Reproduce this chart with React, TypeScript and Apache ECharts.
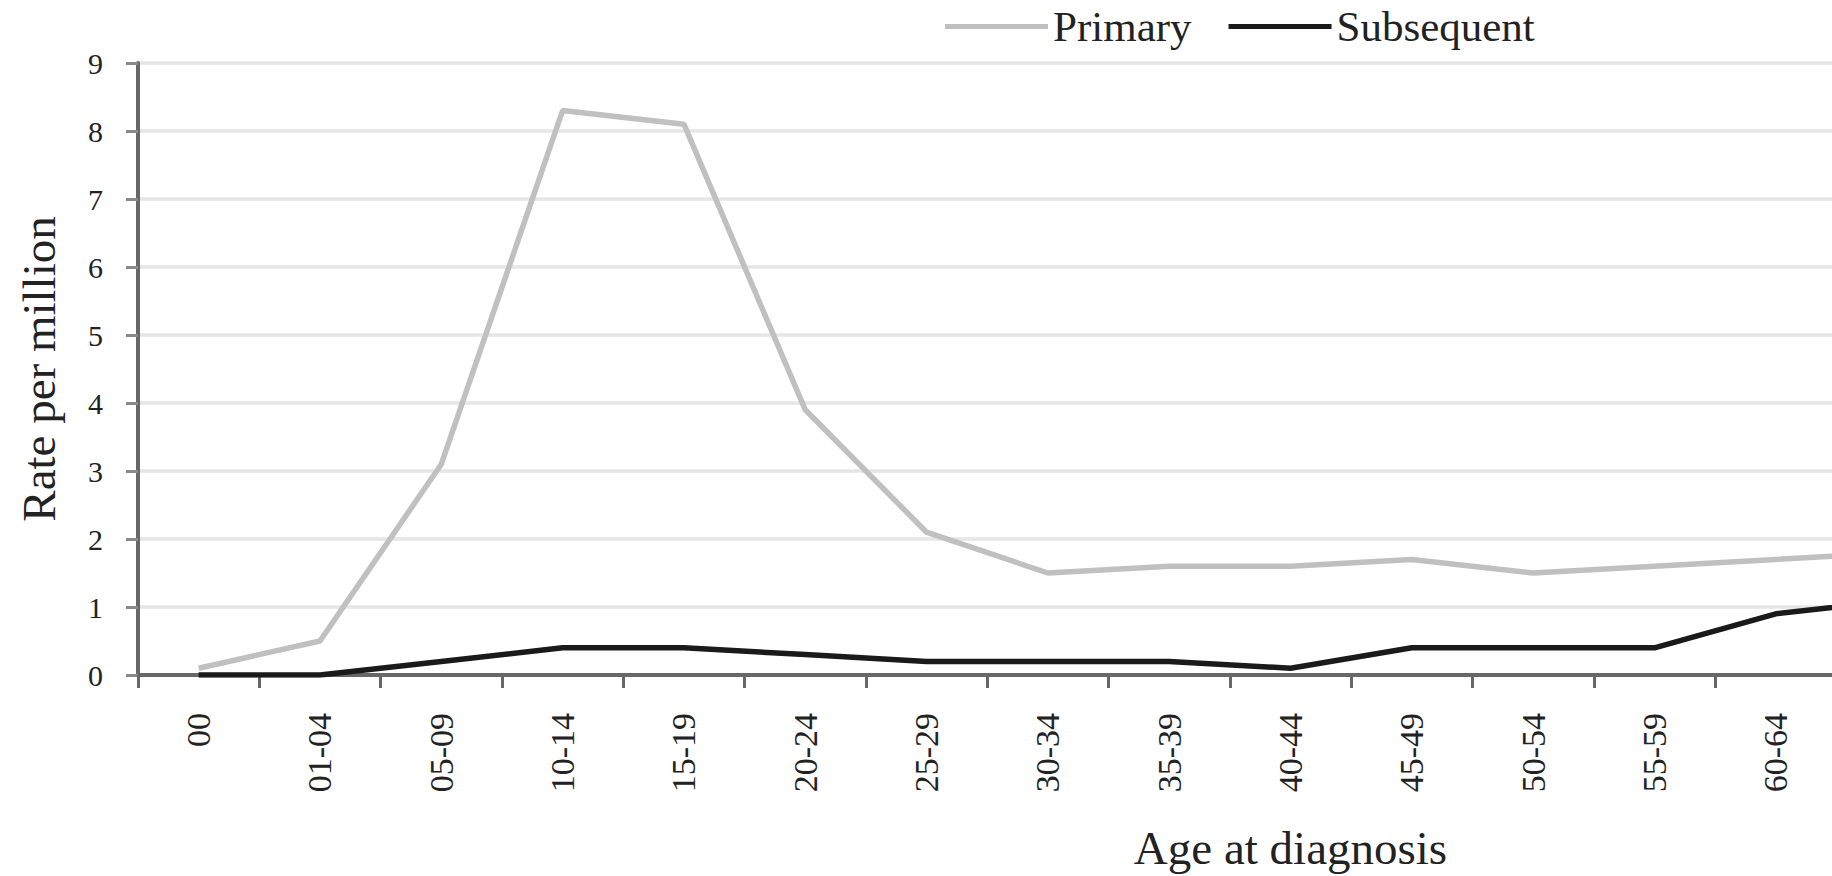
import React, { useEffect, useRef } from "react";
import * as echarts from "echarts";

// Age groups at diagnosis
const categories = [
  "00", "01-04", "05-09", "10-14", "15-19", "20-24", "25-29", "30-34", "35-39",
  "40-44", "45-49", "50-54", "55-59", "60-64", "65-69", "70-74", "75-79", "80-84", "85+",
];

// Rate per million, primary tumours
const primary = [
  0.1, 0.5, 3.1, 8.3, 8.1, 3.9, 2.1, 1.5, 1.6, 1.6, 1.7, 1.5, 1.6, 1.7, 1.8,
  null, null, null, null,
];

// Rate per million, subsequent tumours
const subsequent = [
  0.0, 0.0, 0.2, 0.4, 0.4, 0.3, 0.2, 0.2, 0.2, 0.1, 0.4, 0.4, 0.4, 0.9, 1.1,
  null, null, null, null,
];

const yTicks = [0, 9, 1]; // min, max, step

// Age-group labels that fall inside the visible canvas
const labelledGroups = 14;

const FONT = "'Liberation Serif', 'Times New Roman', serif";

export default function App() {
  const ref = useRef<HTMLDivElement>(null);

  useEffect(() => {
    if (!ref.current) return;
    const chart = echarts.init(ref.current, undefined, { renderer: "svg" });
    chart.setOption({
      animation: false,
      backgroundColor: "#ffffff",
      legend: {
        left: 940,
        top: 0,
        icon: "rect",
        itemWidth: 103,
        itemHeight: 5,
        itemGap: 37,
        textStyle: { fontFamily: FONT, fontSize: 43, color: "#222" },
        data: ["Primary", "Subsequent"],
      },
      grid: { left: 138, right: 57, top: 63, bottom: 200, containLabel: false },
      xAxis: {
        type: "category",
        data: categories,
        boundaryGap: true,
        name: "Age at diagnosis",
        nameLocation: "middle",
        nameGap: 149,
        nameTextStyle: { fontFamily: FONT, fontSize: 47, color: "#222" },
        axisLine: { lineStyle: { color: "#676767", width: 4 } },
        axisTick: { show: true, alignWithLabel: false, length: 13, lineStyle: { color: "#676767", width: 3 } },
        axisLabel: {
          rotate: 90,
          margin: 38,
          interval: (i: number) => i < labelledGroups,
          fontFamily: FONT,
          fontSize: 34,
          color: "#222",
        },
        splitLine: { show: false },
      },
      yAxis: {
        type: "value",
        min: yTicks[0],
        max: yTicks[1],
        interval: yTicks[2],
        name: "Rate per million",
        nameLocation: "middle",
        nameGap: 76,
        nameRotate: 90,
        nameTextStyle: { fontFamily: FONT, fontSize: 47, color: "#222" },
        axisLine: { show: true, lineStyle: { color: "#676767", width: 4 } },
        axisTick: { show: true, length: 12, lineStyle: { color: "#8a8a8a", width: 3 } },
        axisLabel: { margin: 35, fontFamily: FONT, fontSize: 30, color: "#222" },
        splitLine: { show: true, lineStyle: { color: "#e6e6e6", width: 3.5 } },
      },
      series: [
        {
          name: "Primary",
          type: "line",
          data: primary,
          symbol: "none",
          color: "#c0c0c0",
          lineStyle: { color: "#c0c0c0", width: 5.5 },
          z: 2,
        },
        {
          name: "Subsequent",
          type: "line",
          data: subsequent,
          symbol: "none",
          color: "#1a1a1a",
          lineStyle: { color: "#1a1a1a", width: 5.5 },
          z: 3,
        },
      ],
    });
    return () => chart.dispose();
  }, []);

  return (
    <div
      style={{
        position: "fixed",
        left: 0,
        top: 0,
        width: "100vw",
        height: "100vh",
        overflow: "hidden",
        background: "#ffffff",
      }}
    >
      <div ref={ref} style={{ width: 2500, height: 876 }} />
    </div>
  );
}
